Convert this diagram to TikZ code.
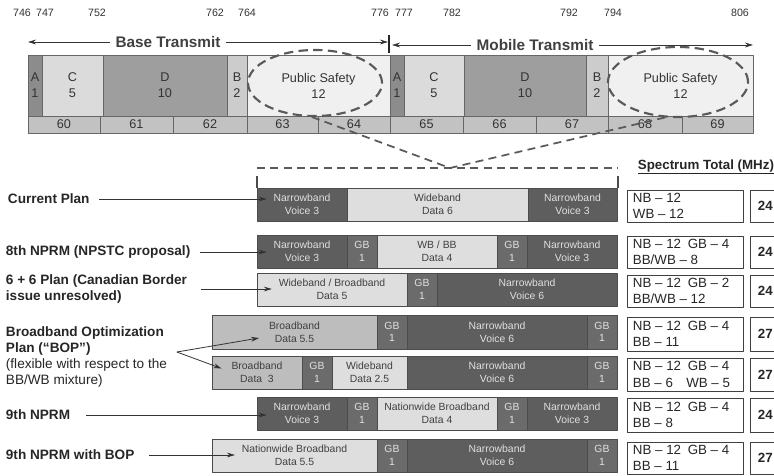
\documentclass[tikz,border=0pt]{standalone}
\usepackage{fontspec}
\setmainfont{Liberation Sans}
\usetikzlibrary{shapes.geometric,arrows.meta}
\definecolor{bandA}{gray}{0.55}
\definecolor{bandC}{gray}{0.86}
\definecolor{bandD}{gray}{0.62}
\definecolor{bandB}{gray}{0.80}
\definecolor{bandPS}{gray}{0.94}
\definecolor{chgray}{gray}{0.76}
\definecolor{nbgray}{gray}{0.37}
\definecolor{gbgray}{gray}{0.42}
\definecolor{ltgray}{gray}{0.87}
\definecolor{mdgray}{gray}{0.74}
\newcommand\cellfnt{\fontsize{7.8}{9.5}\selectfont}
\newcommand\topfnt{\fontsize{9.5}{12}\selectfont}
\newcommand\labfnt{\fontsize{10.2}{12}\selectfont\bfseries}
\newcommand\totfnt{\fontsize{10}{12.5}\selectfont}
\begin{document}
\begin{tikzpicture}[x=0.75pt,y=-0.75pt,line join=round,>={Stealth[length=6pt,width=3.6pt]},
  every node/.style={align=center,inner sep=2pt},
  cell/.style={draw=black!70,line width=0.5pt,font=\cellfnt},
  nb/.style={cell,fill=nbgray,text=white!88!black},
  gb/.style={cell,fill=gbgray,text=white!88!black},
  lt/.style={cell,fill=ltgray,text=black!75},
  md/.style={cell,fill=mdgray,text=black!75},
  band/.style={draw=black!60,line width=0.5pt,font=\topfnt,text=black!80},
  freq/.style={font=\fontsize{8}{9}\selectfont,text=black!80},
  ttl/.style={font=\fontsize{11.5}{13}\selectfont\bfseries,text=black!75,inner sep=4pt},
  lab/.style={font=\labfnt,text=black!85,anchor=west,align=left},
  arr/.style={->,draw=black!80,line width=0.6pt,shorten >=3pt},
  sbox/.style={draw=black!75,line width=0.6pt},
  tot/.style={font=\totfnt,text=black!85,align=left,anchor=west},
  psring/.style={ellipse,draw=black!65,line width=1.6pt,dash pattern=on 7pt off 4pt,minimum width=#1},
  zoomln/.style={draw=black!65,line width=1.3pt,dash pattern=on 6pt off 4pt}]
\clip (0,0) rectangle (774,475);
% frequencies
\foreach \x/\f in {22/746,45/747,97/752,215/762,247/764,380/776,404/777,452/782,569/792,613/794,740/806}
  \node[freq] at (\x,13) {\f};
% transmit arrows
\coordinate (bl) at (28,42); \coordinate (br) at (388,42);
\coordinate (ml) at (392,45); \coordinate (mr) at (753,45);
\node[ttl] (bt) at (168,42) {Base Transmit};
\node[ttl] (mt) at (535,45) {Mobile Transmit};
\draw[<-,black!80,line width=0.6pt] (bl) -- (bt.west);
\draw[->,black!80,line width=0.6pt] (bt.east) -- (br);
\draw[<-,black!80,line width=0.6pt] (ml) -- (mt.west);
\draw[->,black!80,line width=0.6pt] (mt.east) -- (mr);
\draw[black!85,line width=1pt] (389,35) -- (389,53);
% band plan
\draw[band,fill=bandA] (28,55) rectangle node {A\\1} (42,116);
\draw[band,fill=bandC] (42,55) rectangle node {C\\5} (103,116);
\draw[band,fill=bandD] (103,55) rectangle node {D\\10} (227,116);
\draw[band,fill=bandB] (227,55) rectangle node {B\\2} (247,116);
\draw[band,fill=bandPS] (247,55) rectangle node {Public Safety\\12} (390,116);
\draw[band,fill=bandA] (390,55) rectangle node {A\\1} (404,116);
\draw[band,fill=bandC] (404,55) rectangle node {C\\5} (464,116);
\draw[band,fill=bandD] (464,55) rectangle node {D\\10} (586,116);
\draw[band,fill=bandB] (586,55) rectangle node {B\\2} (608,116);
\draw[band,fill=bandPS] (608,55) rectangle node {Public Safety\\12} (753,116);
\foreach \xa/\xb/\n in {28/100/60,100/173/61,173/247/62,247/318/63,318/390/64,390/463/65,463/536/66,536/608/67,608/682/68,682/753/69}
  \draw[band,fill=chgray] (\xa,116) rectangle node {\n} (\xb,133);
% public safety zoom
\node[psring=100.5pt,minimum height=49.5pt] (ps1) at (315,83) {};
\node[psring=105pt,minimum height=52.5pt] (ps2) at (678,82) {};
\coordinate (apex) at (450,168);
\draw[zoomln] (ps1.265) -- (apex) -- (ps2.250);
\draw[zoomln] (257,168) -- (618,168);
\draw[black!70,line width=0.8pt] (257,176) -- (257,188) (618,176) -- (618,188);
% current plan
\draw[nb] (257,188) rectangle node (cp1) {Narrowband\\Voice 3} (347,221);
\draw[lt] (347,188) rectangle node (cp2) {Wideband\\Data 6} (528,221);
\draw[nb] (528,188) rectangle node (cp3) {Narrowband\\Voice 3} (617,221);
% 8th NPRM
\draw[nb] (257,235) rectangle node (np1) {Narrowband\\Voice 3} (347,268);
\draw[gb] (347,235) rectangle node (np2) {GB\\1} (377,268);
\draw[lt] (377,235) rectangle node (np3) {WB / BB\\Data 4} (497,268);
\draw[gb] (497,235) rectangle node (np4) {GB\\1} (527,268);
\draw[nb] (527,235) rectangle node (np5) {Narrowband\\Voice 3} (617,268);
% 6 + 6 plan
\draw[lt] (257,273) rectangle node (sx1) {Wideband / Broadband\\Data 5} (407,306);
\draw[gb] (407,273) rectangle node (sx2) {GB\\1} (437,306);
\draw[nb] (437,273) rectangle node (sx3) {Narrowband\\Voice 6} (617,306);
% BOP, two mixes
\draw[md] (212,315) rectangle node (ba1) {Broadband\\Data 5.5} (377,349);
\draw[gb] (377,315) rectangle node (ba2) {GB\\1} (407,349);
\draw[nb] (407,315) rectangle node (ba3) {Narrowband\\Voice 6} (587,349);
\draw[gb] (587,315) rectangle node (ba4) {GB\\1} (617,349);
\draw[md] (212,356) rectangle node (bb1) {Broadband\\Data \ 3} (302,389);
\draw[gb] (302,356) rectangle node (bb2) {GB\\1} (332,389);
\draw[lt] (332,356) rectangle node (bb3) {Wideband\\Data 2.5} (407,389);
\draw[nb] (407,356) rectangle node (bb4) {Narrowband\\Voice 6} (587,389);
\draw[gb] (587,356) rectangle node (bb5) {GB\\1} (617,389);
% 9th NPRM
\draw[nb] (257,397) rectangle node (nn1) {Narrowband\\Voice 3} (347,430);
\draw[gb] (347,397) rectangle node (nn2) {GB\\1} (377,430);
\draw[lt] (377,397) rectangle node (nn3) {Nationwide Broadband\\Data 4} (497,430);
\draw[gb] (497,397) rectangle node (nn4) {GB\\1} (527,430);
\draw[nb] (527,397) rectangle node (nn5) {Narrowband\\Voice 3} (617,430);
% 9th NPRM with BOP
\draw[lt] (212,439) rectangle node (nb1) {Nationwide Broadband\\Data 5.5} (377,472);
\draw[gb] (377,439) rectangle node (nb2) {GB\\1} (407,472);
\draw[nb] (407,439) rectangle node (nb3) {Narrowband\\Voice 6} (587,472);
\draw[gb] (587,439) rectangle node (nb4) {GB\\1} (617,472);
% spectrum totals
\node[tot,font=\totfnt\bfseries] (sphead) at (635,167) {\underline{Spectrum Total (MHz)}};
\foreach \ya/\yb/\txt/\sum [count=\i] in {190/222/{NB – 12\\WB – 12}/24,
    236/268/{NB – 12\enspace GB – 4\\BB/WB – 8}/24,
    275/307/{NB – 12\enspace GB – 2\\BB/WB – 12}/24,
    317/351/{NB – 12\enspace GB – 4\\BB – 11}/27,
    358/391/{NB – 12\enspace GB – 4\\BB – 6\quad WB – 5}/27,
    398/432/{NB – 12\enspace GB – 4\\BB – 8}/24,
    442/474/{NB – 12\enspace GB – 4\\BB – 11}/27}{
  \draw[sbox] (627,\ya) rectangle (743,\yb);
  \node[tot] (sp\i) at (630,{(\ya+\yb)/2}) {\txt};
  \draw[sbox] (750,\ya) rectangle (800,\yb);
  \node[tot,font=\totfnt\bfseries] (st\i) at (755,{(\ya+\yb)/2}) {\sum};
}
% plan labels
\node[lab] (lcp) at (5,199) {Current Plan};
\node[lab] (ln8) at (3,252) {8th NPRM (NPSTC proposal)};
\node[lab] (l66) at (3,289) {6 + 6 Plan (Canadian Border\\issue unresolved)};
\node[lab] (lbop) at (3,357) {Broadband Optimization\\Plan (“BOP”)\\\mdseries (flexible with respect to the\\\mdseries BB/WB mixture)};
\node[lab] (ln9) at (3,415) {9th NPRM};
\node[lab] (ln9b) at (3,455) {9th NPRM with BOP};
\draw[arr] ([xshift=5pt]lcp.east) -- (lcp.east -| cp1.west);
\draw[arr] ([xshift=5pt]ln8.east) -- (ln8.east -| np1.west);
\draw[arr] ([xshift=8pt]l66.east) -- (l66.east -| sx1.west);
\draw[arr] ([xshift=10pt]ln9.east) -- (ln9.east -| nn1.west);
\draw[arr] ([xshift=9pt]ln9b.east) -- (ln9b.east -| nb1.west);
\coordinate (fork) at ([shift={(7,-5)}]lbop.east);
\draw[->,draw=black!80,line width=0.6pt] (fork) -- ([shift={(-7,6)}]ba1.west);
\draw[->,draw=black!80,line width=0.6pt] (fork) -- ([shift={(-7,-4)}]bb1.west);
\end{tikzpicture}
\end{document}
